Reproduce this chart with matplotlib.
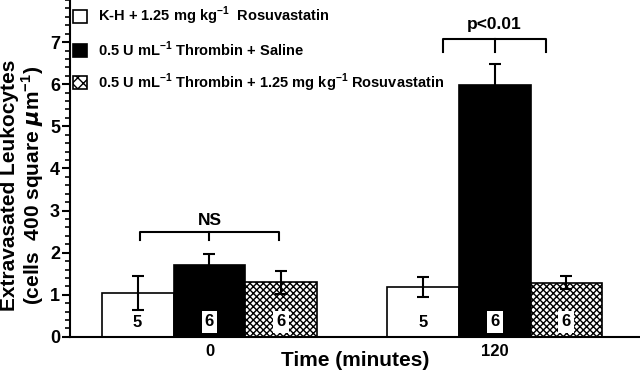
import matplotlib
matplotlib.use("Agg")
import matplotlib.pyplot as plt
from matplotlib.patches import Patch
from matplotlib.ticker import MultipleLocator
from matplotlib import font_manager as fm

names = {f.name for f in fm.fontManager.ttflist}
FONT = "Liberation Sans Narrow" if "Liberation Sans Narrow" in names else "Liberation Sans"
plt.rcParams['font.family'] = [FONT, 'DejaVu Sans']
plt.rcParams['font.weight'] = 'bold'
plt.rcParams['mathtext.fontset'] = 'custom'
plt.rcParams['mathtext.it'] = 'DejaVu Sans:italic:bold'
plt.rcParams['mathtext.rm'] = FONT + ':bold'
plt.rcParams['mathtext.bf'] = FONT + ':bold'
plt.rcParams['hatch.linewidth'] = 1.0

time_labels = ["0", "120"]
series = ["K-H + 1.25 mg kg$^{-1}$  Rosuvastatin",
          "0.5 U mL$^{-1}$ Thrombin + Saline",
          "0.5 U mL$^{-1}$ Thrombin + 1.25 mg kg$^{-1}$ Rosuvastatin"]
means = [[1.05, 1.18], [1.70, 5.97], [1.30, 1.29]]
errors = [[0.40, 0.24], [0.26, 0.52], [0.27, 0.16]]
n_labels = [["5", "5"], ["6", "6"], ["6", "6"]]
sig_labels = ["NS", "p<0.01"]

fig = plt.figure(figsize=(6.4, 3.76), dpi=100)
ax = fig.add_axes([0.109, 0.104, 0.891, 0.896])

width = 0.252
offsets = [-width, 0, width]
faces = ['white', 'black', 'white']
hatches = [None, None, 'xxxxx']
xs = list(range(len(time_labels)))
for i in range(3):
    pos = [x + offsets[i] for x in xs]
    ax.bar(pos, means[i], width, color=faces[i], edgecolor='black',
           linewidth=1.2, hatch=hatches[i], zorder=2)
    ax.errorbar(pos, means[i], yerr=errors[i], fmt='none', ecolor='black',
                elinewidth=1.5, capsize=4, capthick=1.5, zorder=3)
    for p, lab in zip(pos, n_labels[i]):
        if i == 0:
            ax.text(p, 0.33, lab, ha='center', va='center', fontsize=12,
                    fontweight='bold', zorder=4)
        else:
            ax.text(p, 0.36, lab, ha='center', va='center', fontsize=12,
                    fontweight='bold', zorder=4,
                    bbox=dict(boxstyle='square,pad=0.2', fc='white', ec='none'))

# significance brackets
br = [(-0.245, 0.245, 2.49, 2.30, 2.76), (-0.18, 0.18, 7.08, 6.77, 7.41)]
for x, (l, r, yb, yt, ytxt), s in zip(xs, br, sig_labels):
    ax.plot([x + l, x + l, x + r, x + r], [yt, yb, yb, yt], color='black', lw=1.5, zorder=3)
    ax.plot([x, x], [yb, yt], color='black', lw=1.5, zorder=3)
    ax.text(x, ytxt, s, ha='center', va='center', fontsize=12.5, fontweight='bold')

ax.set_xlim(-0.49, 1.51)
ax.set_ylim(0, 8)
ax.set_xticks(xs)
ax.set_xticklabels(time_labels, fontsize=12, fontweight='bold')
ax.tick_params(axis='x', length=0, pad=5)
ax.yaxis.set_major_locator(MultipleLocator(1))
ax.yaxis.set_minor_locator(MultipleLocator(0.2))
ax.set_yticks(range(8))
ax.set_yticklabels([str(v) for v in range(8)], fontsize=13, fontweight='bold')
ax.tick_params(axis='y', which='major', length=6, width=1.5, direction='out', pad=1)
ax.tick_params(axis='y', which='minor', length=3.5, width=1.2, direction='out')
for sp in ['top', 'right']:
    ax.spines[sp].set_visible(False)
for sp in ['left', 'bottom']:
    ax.spines[sp].set_linewidth(1.5)

fig.text(23 / 640, 1 - 185 / 376,
         "Extravasated Leukocytes\n(cells  400 square $\\mu$m$^{-1}$)",
         rotation=90, ha='center', va='center', fontsize=15, fontweight='bold',
         linespacing=1.0)
fig.text(355 / 640, 1 - 360 / 376, "Time (minutes)", ha='center', va='center',
         fontsize=15, fontweight='bold')

handles = [Patch(facecolor=faces[i], edgecolor='black', hatch=('xxx' if hatches[i] else None),
                 linewidth=1.2) for i in range(3)]
ax.legend(handles, series, loc='upper left', bbox_to_anchor=(-0.015, 1.02), frameon=False,
          fontsize=10.5, handlelength=1.0, handleheight=1.0, handletextpad=0.7,
          labelspacing=0.85, borderaxespad=0.4)

fig.savefig("out.png", dpi=100)
